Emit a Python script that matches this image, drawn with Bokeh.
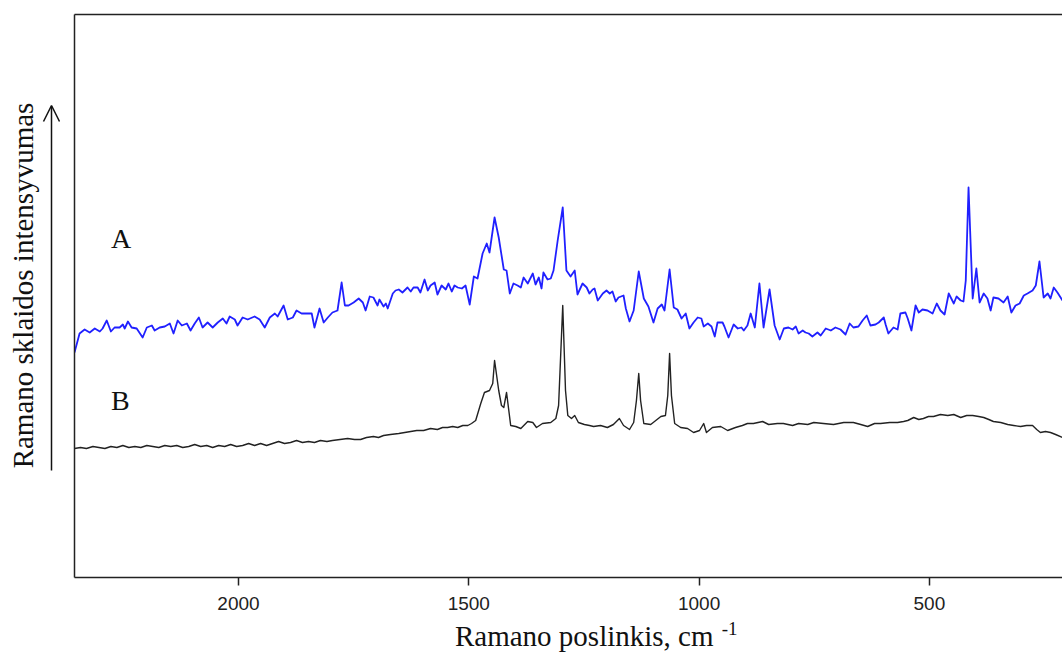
import math
from bokeh.plotting import figure
from bokeh.layouts import row, column
from bokeh.models import Range1d, LinearAxis, FixedTicker, Label, Arrow, OpenHead
from bokeh.embed import file_html
from bokeh.resources import INLINE

# Raman spectrum A (blue) : shift in cm^-1, intensity in arbitrary units
a_shift = [2356, 2345, 2334, 2323, 2312, 2301, 2295, 2286, 2277, 2269,
           2258, 2251, 2247, 2240, 2232, 2221, 2208, 2199, 2188, 2182,
           2171, 2160, 2149, 2141, 2132, 2123, 2112, 2104, 2095, 2086,
           2078, 2067, 2056, 2045, 2034, 2026, 2019, 2008, 2002, 1991,
           1980, 1965, 1954, 1943, 1932, 1921, 1915, 1902, 1893, 1882,
           1874, 1863, 1850, 1841, 1835, 1824, 1815, 1806, 1796, 1785,
           1776, 1769, 1761, 1750, 1739, 1730, 1724, 1715, 1707, 1698,
           1694, 1685, 1680, 1676, 1665, 1659, 1652, 1644, 1633, 1626,
           1620, 1611, 1605, 1596, 1589, 1583, 1574, 1568, 1559, 1550,
           1544, 1537, 1531, 1524, 1515, 1507, 1498, 1489, 1481, 1470,
           1461, 1455, 1444, 1435, 1424, 1418, 1411, 1403, 1394, 1387,
           1381, 1372, 1361, 1355, 1348, 1342, 1338, 1329, 1322, 1316,
           1307, 1296, 1288, 1279, 1270, 1264, 1253, 1244, 1238, 1231,
           1227, 1220, 1209, 1201, 1194, 1188, 1181, 1175, 1164, 1159,
           1151, 1142, 1131, 1120, 1110, 1099, 1090, 1081, 1075, 1064,
           1055, 1047, 1038, 1029, 1021, 1012, 1003, 995, 990, 981,
           973, 966, 960, 949, 945, 936, 925, 916, 908, 903,
           895, 888, 879, 869, 860, 847, 836, 825, 816, 806,
           797, 790, 784, 775, 769, 762, 754, 743, 736, 725,
           714, 704, 693, 682, 673, 665, 654, 645, 636, 628,
           617, 610, 599, 595, 589, 578, 569, 563, 552, 547,
           539, 530, 523, 515, 504, 493, 484, 476, 467, 458,
           447, 441, 432, 426, 421, 415, 406, 398, 391, 382,
           374, 367, 361, 350, 339, 330, 322, 313, 304, 295,
           287, 276, 269, 261, 252, 243, 237, 230, 222, 211]
a_int = [225, 244, 248, 245, 249, 246, 249, 257, 246, 250,
         250, 253, 249, 256, 250, 249, 240, 250, 252, 247,
         250, 251, 254, 244, 257, 252, 254, 247, 254, 260,
         250, 255, 250, 255, 259, 254, 261, 258, 252, 260,
         258, 261, 258, 250, 260, 264, 261, 272, 258, 260,
         267, 264, 264, 264, 250, 269, 255, 260, 265, 267,
         295, 272, 272, 275, 279, 275, 267, 281, 280, 272,
         278, 271, 274, 269, 284, 287, 288, 285, 290, 286,
         290, 290, 285, 298, 287, 292, 295, 283, 292, 288,
         294, 286, 292, 290, 289, 292, 273, 301, 299, 324,
         334, 325, 360, 340, 308, 307, 284, 294, 292, 290,
         300, 294, 304, 293, 300, 289, 305, 298, 299, 307,
         337, 370, 307, 301, 307, 283, 294, 290, 284, 288,
         289, 277, 284, 287, 284, 286, 276, 280, 282, 269,
         256, 267, 306, 279, 271, 255, 269, 273, 267, 308,
         270, 268, 259, 264, 249, 255, 260, 259, 251, 254,
         251, 241, 255, 255, 251, 240, 253, 249, 250, 247,
         252, 264, 250, 294, 250, 288, 252, 238, 249, 250,
         248, 251, 244, 247, 245, 244, 241, 245, 242, 249,
         247, 250, 248, 243, 254, 250, 251, 257, 262, 252,
         253, 255, 260, 253, 244, 250, 248, 264, 265, 259,
         247, 272, 265, 268, 267, 264, 274, 267, 263, 284,
         274, 281, 277, 276, 297, 390, 279, 309, 275, 284,
         279, 267, 280, 279, 275, 281, 265, 272, 274, 282,
         284, 287, 292, 316, 280, 284, 279, 290, 285, 277]

# Raman spectrum B (black)
b_shift = [2356, 2343, 2330, 2316, 2303, 2290, 2277, 2264, 2251, 2238,
           2225, 2212, 2199, 2186, 2173, 2160, 2147, 2134, 2121, 2108,
           2095, 2082, 2069, 2056, 2043, 2030, 2017, 2004, 1991, 1978,
           1965, 1952, 1939, 1926, 1913, 1900, 1887, 1874, 1861, 1848,
           1835, 1822, 1808, 1796, 1763, 1748, 1735, 1722, 1707, 1696,
           1685, 1670, 1652, 1639, 1626, 1613, 1598, 1583, 1568, 1557,
           1546, 1535, 1524, 1513, 1502, 1494, 1485, 1474, 1466, 1455,
           1448, 1444, 1435, 1429, 1424, 1418, 1409, 1398, 1387, 1372,
           1361, 1353, 1340, 1322, 1311, 1305, 1296, 1290, 1285, 1277,
           1270, 1262, 1249, 1238, 1229, 1214, 1199, 1186, 1173, 1164,
           1151, 1142, 1136, 1131, 1127, 1120, 1105, 1094, 1083, 1073,
           1068, 1064, 1060, 1053, 1040, 1025, 1012, 999, 990, 984,
           971, 953, 938, 921, 906, 895, 882, 862, 849, 830,
           817, 797, 784, 764, 751, 730, 708, 686, 665, 649,
           634, 619, 606, 586, 569, 556, 547, 534, 523, 513,
           502, 491, 476, 460, 447, 432, 419, 406, 393, 382,
           371, 361, 345, 330, 317, 302, 289, 276, 267, 259,
           248, 237, 226, 211]
b_int = [129, 130, 129, 131, 130, 129, 131, 130, 132, 130,
         131, 130, 132, 131, 130, 132, 131, 132, 130, 131,
         133, 131, 132, 130, 132, 131, 133, 131, 132, 134,
         132, 134, 132, 134, 136, 134, 135, 137, 135, 136,
         135, 137, 136, 137, 139, 138, 138, 140, 141, 140,
         142, 143, 144, 145, 146, 147, 147, 149, 148, 150,
         150, 151, 150, 152, 152, 154, 157, 174, 185, 187,
         194, 217, 187, 172, 170, 185, 152, 151, 149, 156,
         155, 150, 154, 155, 159, 172, 272, 187, 162, 159,
         162, 155, 153, 152, 151, 152, 150, 153, 159, 152,
         148, 155, 177, 204, 177, 154, 153, 157, 161, 162,
         182, 224, 182, 154, 150, 149, 145, 147, 154, 145,
         150, 151, 147, 150, 152, 154, 154, 156, 153, 154,
         154, 152, 154, 153, 155, 154, 153, 155, 155, 153,
         151, 154, 154, 155, 155, 156, 157, 160, 158, 159,
         161, 161, 163, 162, 163, 160, 162, 162, 161, 160,
         158, 156, 155, 153, 152, 151, 152, 152, 148, 145,
         146, 145, 143, 140]

x_ticks = [2000, 1500, 1000, 500]
x_title = "Ramano poslinkis, cm"
x_title_sup = "-1"
y_title = "Ramano sklaidos intensyvumas"
curve_labels = ["A", "B"]

SERIF = "Liberation Serif"
SANS = "Liberation Sans"
INK = "#111111"
AXIS = "#222222"


def bare(fig):
    fig.grid.visible = False
    fig.outline_line_color = None
    fig.background_fill_color = "white"
    fig.border_fill_color = "white"


x_range = Range1d(2356, 211)

# ---------------- main plot ----------------
p = figure(width=996, height=618, output_backend="svg", toolbar_location=None,
           x_range=x_range, y_range=Range1d(0, 563),
           min_border_left=8, min_border_right=0, min_border_top=14,
           min_border_bottom=41, x_axis_location=None, y_axis_location=None)
bare(p)

xaxis = LinearAxis(ticker=FixedTicker(ticks=x_ticks))
xaxis.axis_line_color = AXIS
xaxis.axis_line_width = 1.5
xaxis.major_tick_line_color = AXIS
xaxis.major_tick_line_width = 1.5
xaxis.major_tick_out = 8
xaxis.major_tick_in = 0
xaxis.minor_tick_line_color = None
xaxis.major_label_text_font = SANS
xaxis.major_label_text_font_size = "19px"
xaxis.major_label_text_color = AXIS
xaxis.major_label_standoff = 11
p.add_layout(xaxis, "below")

for loc in ("left", "above"):
    ax = LinearAxis(ticker=FixedTicker(ticks=[]))
    ax.axis_line_color = AXIS
    ax.axis_line_width = 1.5
    ax.major_tick_line_color = None
    ax.minor_tick_line_color = None
    ax.major_label_text_font_size = "0px"
    p.add_layout(ax, loc)

p.line(a_shift, a_int, line_color="#2020ff", line_width=1.8, line_join="round")
p.line(b_shift, b_int, line_color="#222222", line_width=1.4, line_join="round")

p.add_layout(Label(x=2277, y=339, text=curve_labels[0], text_font=SERIF,
                   text_font_size="28px", text_color=INK,
                   text_align="left", text_baseline="alphabetic"))
p.add_layout(Label(x=2277, y=177, text=curve_labels[1], text_font=SERIF,
                   text_font_size="28px", text_color=INK,
                   text_align="left", text_baseline="alphabetic"))

# ---------------- strip below: x-axis title ----------------
bf = figure(width=996, height=35, output_backend="svg", toolbar_location=None,
            x_range=x_range, y_range=Range1d(0, 35),
            min_border_left=8, min_border_right=0, min_border_top=0,
            min_border_bottom=0, x_axis_location=None, y_axis_location=None)
bare(bf)
bf.add_layout(Label(x=1530, y=18, text=x_title, text_font=SERIF,
                    text_font_size="29px", text_color=INK,
                    text_align="left", text_baseline="alphabetic"))
bf.add_layout(Label(x=951, y=25, text=x_title_sup, text_font=SERIF,
                    text_font_size="19px", text_color=INK,
                    text_align="left", text_baseline="alphabetic"))

# ---------------- strip on the left: y title and arrow ----------------
lf = figure(width=66, height=653, output_backend="svg", toolbar_location=None,
            x_range=Range1d(0, 66), y_range=Range1d(0, 653),
            min_border_left=0, min_border_right=0, min_border_top=0,
            min_border_bottom=0, x_axis_location=None, y_axis_location=None)
bare(lf)
lf.add_layout(Label(x=22, y=368, text=y_title, text_font=SERIF,
                    text_font_size="29px", text_color=INK, angle=math.pi / 2,
                    text_align="center", text_baseline="alphabetic"))
lf.add_layout(Arrow(x_start=51, y_start=183, x_end=51, y_end=548,
                    line_width=1.5, line_color=INK,
                    end=OpenHead(size=16, line_width=1.5, line_color=INK)))

layout = row(lf, column(p, bf))
open("out.html", "w").write(file_html(layout, INLINE))
